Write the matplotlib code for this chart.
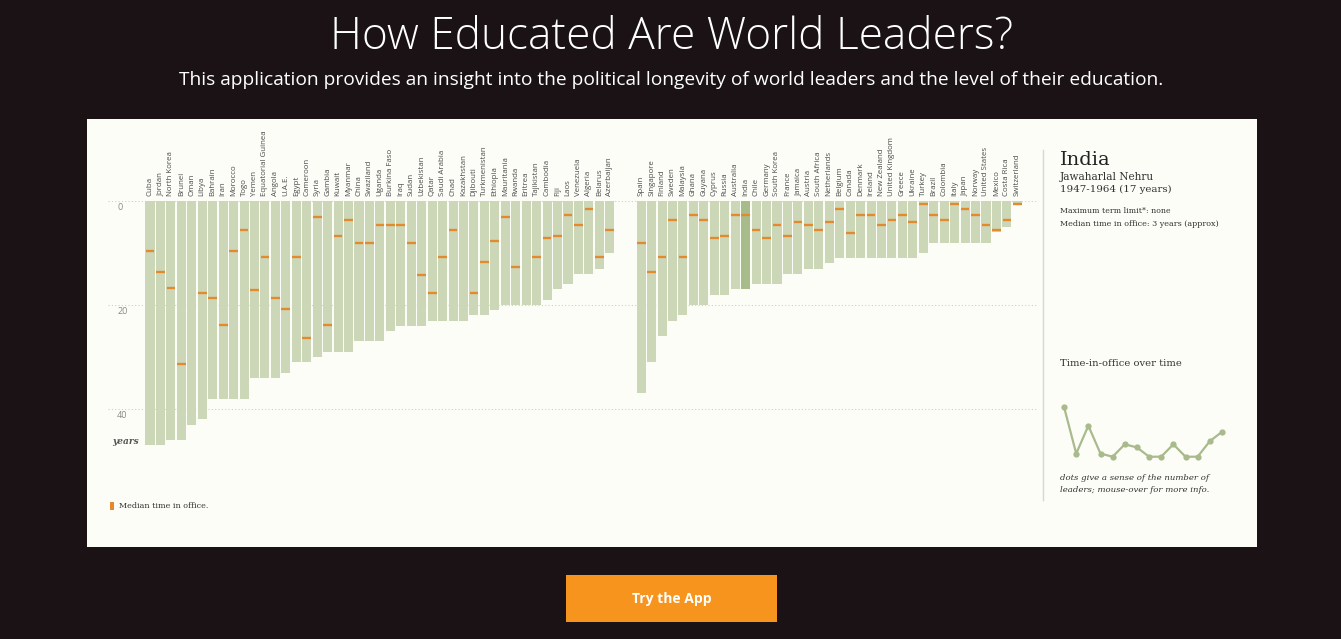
import numpy as np
import matplotlib
matplotlib.use("Agg")
import matplotlib.pyplot as plt
from matplotlib.patches import Rectangle

# ---------------- data ----------------
left_countries = ["Cuba", "Jordan", "North Korea", "Brunei", "Oman", "Libya", "Bahrain", "Iran",
                  "Morocco", "Togo", "Yemen", "Equatorial Guinea", "Angola", "U.A.E.", "Egypt",
                  "Cameroon", "Syria", "Gambia", "Kuwait", "Myanmar", "China", "Swaziland", "Uganda",
                  "Burkina Faso", "Iraq", "Sudan", "Uzbekistan", "Qatar", "Saudi Arabia", "Chad",
                  "Kazakhstan", "Djibouti", "Turkmenistan", "Ethiopia", "Mauritania", "Rwanda",
                  "Eritrea", "Tajikistan", "Cambodia", "Fiji", "Laos", "Venezuela", "Algeria",
                  "Belarus", "Azerbaijan"]
left_longest = [47, 47, 46, 46, 43, 42, 38, 38, 38, 38, 34, 34, 34, 33, 31, 31, 30, 29, 29, 29,
                27, 27, 27, 25, 24, 24, 24, 23, 23, 23, 23, 22, 22, 21, 20, 20, 20, 20, 19, 17,
                16, 14, 14, 13, 10]
left_median = [9.6, 13.7, 16.7, 31.3, np.nan, 17.7, 18.7, 23.8, 9.6, 5.6, 17.2, 10.7, 18.7, 20.7,
               10.7, 26.3, 3.1, 23.8, 6.7, 3.7, 8.1, 8.1, 4.6, 4.6, 4.6, 8.1, 14.2, 17.7, 10.7,
               5.6, np.nan, 17.7, 11.7, 7.6, 3.1, 12.7, np.nan, 10.7, 7.2, 6.7, 2.6, 4.6, 1.6,
               10.7, 5.6]

right_countries = ["Spain", "Singapore", "Finland", "Sweden", "Malaysia", "Ghana", "Guyana",
                   "Cyprus", "Russia", "Australia", "India", "Chile", "Germany", "South Korea",
                   "France", "Jamaica", "Austria", "South Africa", "Netherlands", "Belgium",
                   "Canada", "Denmark", "Ireland", "New Zealand", "United Kingdom", "Greece",
                   "Ukraine", "Turkey", "Brazil", "Colombia", "Italy", "Japan", "Norway",
                   "United States", "Mexico", "Costa Rica", "Switzerland"]
right_longest = [37, 31, 26, 23, 22, 20, 20, 18, 18, 17, 17, 16, 16, 16, 14, 14, 13, 13, 12, 11,
                 11, 11, 11, 11, 11, 11, 11, 10, 8, 8, 8, 8, 8, 8, 6, 5, 0.7]
right_median = [8.1, 13.7, 10.7, 3.6, 10.7, 2.6, 3.6, 7.2, 6.7, 2.6, 2.6, 5.6, 7.2, 4.6, 6.7,
                4.1, 4.6, 5.6, 4.1, 1.6, 6.1, 2.6, 2.6, 4.6, 3.6, 2.6, 4.1, 0.6, 2.6, 3.6, 0.6,
                1.6, 2.6, 4.6, 5.6, 3.6, 0.6]

highlight = "India"
y_ticks = [0, 20, 40]

# mini chart: time-in-office over time (years)
mini_values = [18, 3, 12, 3, 2, 6, 5, 2, 2, 6, 2, 2, 7, 10]

# ---------------- style ----------------
BG = "#1a1215"
PANEL = "#fdfdf8"
BAR = "#ccd7b8"
BAR_HI = "#a8bb8a"
MED = "#e38a2e"
LINE = "#a9ba8c"

W, H = 1341, 639
fig = plt.figure(figsize=(W / 100, H / 100), dpi=100, facecolor=BG)

# background/pixel axes
bg = fig.add_axes([0, 0, 1, 1])
bg.set_xlim(0, W)
bg.set_ylim(H, 0)
bg.axis("off")

bg.text(W / 2 + 1, 38, "How Educated Are World Leaders?", color="white", fontsize=31.8,
        family="Open Sans", fontweight="light", ha="center", va="center")
bg.text(W / 2 + 1, 80, "This application provides an insight into the political longevity of world "
        "leaders and the level of their education.", color="white", fontsize=13.75,
        family="Open Sans", ha="center", va="center")

bg.add_patch(Rectangle((87, 119), 1170, 428, facecolor=PANEL, edgecolor="none"))

bg.add_patch(Rectangle((566, 575), 211, 47, facecolor="#f7941d", edgecolor="none"))
bg.text(671.5, 599, "Try the App", color="white", fontsize=10, fontweight="bold",
        family="Open Sans", ha="center", va="center")

# right info panel
bg.plot([1043, 1043], [150, 500], color="#d8d8d2", lw=1)
serif = "DejaVu Serif"
bg.text(1060, 160, "India", fontsize=14, family=serif, color="#222", va="center")
bg.text(1060, 177, "Jawaharlal Nehru", fontsize=7.6, family=serif, color="#333", va="center")
bg.text(1060, 189, "1947-1964 (17 years)", fontsize=7.4, family=serif, color="#333", va="center")
bg.text(1060, 211, "Maximum term limit*: none", fontsize=5.6, family=serif, color="#333",
        va="center")
bg.text(1060, 224, "Median time in office: 3 years (approx)", fontsize=5.8, family=serif,
        color="#333", va="center")
bg.text(1060, 364, "Time-in-office over time", fontsize=7.2, family=serif, color="#333", va="center")
bg.text(1060, 478, "dots give a sense of the number of", fontsize=6.1, family=serif,
        style="italic", color="#333", va="center")
bg.text(1060, 490, "leaders; mouse-over for more info.", fontsize=6.1, family=serif,
        style="italic", color="#333", va="center")

# legend
bg.add_patch(Rectangle((110, 502), 4, 8, facecolor=MED, edgecolor="none"))
bg.text(119, 506, "Median time in office.", fontsize=5.8, family=serif, color="#333", va="center")

# ---------------- bar chart axes ----------------
step = 10.45
x0pix = 150.0
xmin, xmax = -4.0, 85.0
ymin_pix, ppy = 201.0, 5.2
ybot = 50
left_pix = x0pix + xmin * step
right_pix = x0pix + xmax * step
bottom_pix = ymin_pix + ybot * ppy
ax = fig.add_axes([left_pix / W, 1 - bottom_pix / H, (right_pix - left_pix) / W,
                   (bottom_pix - ymin_pix) / H])
ax.set_xlim(xmin, xmax)
ax.set_ylim(ybot, 0)
ax.axis("off")
ax.patch.set_alpha(0)

countries = left_countries + right_countries
longest = left_longest + right_longest
medians = left_median + right_median
xpos = list(range(len(left_countries))) + \
    list(range(len(left_countries) + 2, len(left_countries) + 2 + len(right_countries)))
xpos = np.array(xpos, dtype=float)

for t in y_ticks:
    ax.hlines(t, xmin, xmax, colors="#cfcfcf", linestyles=(0, (1, 2)), lw=0.8, zorder=0)
    ax.text(-3.15, t + 0.4, str(t), fontsize=6.5, color="#888", family="Open Sans",
            ha="left", va="top")
ax.text(-3.6, 46.2, "years", fontsize=6.5, color="#555", family=serif, style="italic",
        fontweight="bold", ha="left", va="center")

colors = [BAR_HI if c == highlight else BAR for c in countries]
ax.bar(xpos, longest, width=0.87, bottom=0, color=colors, edgecolor="none", zorder=1)
med = np.array(medians, dtype=float)
ok = ~np.isnan(med)
ax.hlines(med[ok], xpos[ok] - 0.42, xpos[ok] + 0.42, colors=MED, lw=1.7, zorder=2)

for x, c in zip(xpos, countries):
    ax.text(x, -1.0, c, rotation=90, ha="center", va="bottom", fontsize=5.7,
            family="Open Sans", color="#4a4a4a", clip_on=False)

# ---------------- mini line chart ----------------
mx0, mx1, my0, my1 = 1058, 1228, 400, 466
mini = fig.add_axes([mx0 / W, 1 - my1 / H, (mx1 - mx0) / W, (my1 - my0) / H])
mini.axis("off")
mini.patch.set_alpha(0)
mx = np.arange(len(mini_values))
mini.plot(mx, mini_values, color=LINE, lw=1.6, marker="o", markersize=4.5, markeredgewidth=0)
mini.set_xlim(-0.5, len(mini_values) - 0.5)
mini.set_ylim(-1.0, 20.3)

fig.savefig("out.png", dpi=100, facecolor=BG)
